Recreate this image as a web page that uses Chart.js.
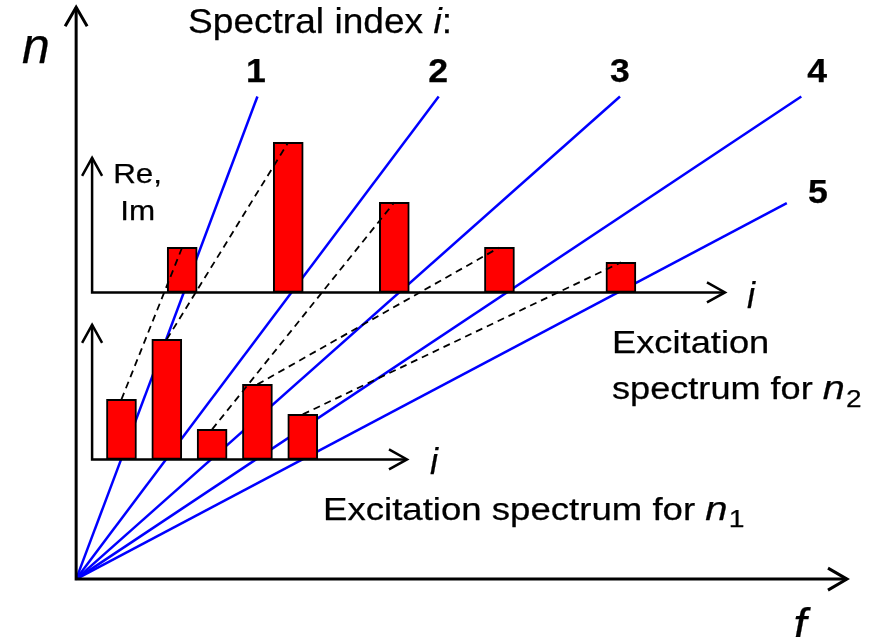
<!DOCTYPE html>
<html>
<head>
<meta charset="utf-8">
<script src="https://cdn.jsdelivr.net/npm/chart.js@4/dist/chart.umd.min.js"></script>
<style>
  html, body { margin: 0; padding: 0; background: #ffffff; }
  #wrap { width: 872px; height: 637px; position: relative; }
</style>
</head>
<body>
<div id="wrap"><canvas id="c"></canvas></div>
<script>
// Rays of constant spectral index i in the (f, n) plane, each from the origin to its end point
const spectralIndex = [1, 2, 3, 4, 5];
const rayEndF = [1, 2, 3, 4, 3.92];
const rayEndN = [1, 1, 1, 1, 0.779];

// Excitation spectrum for n1 (lower inset): Re/Im amplitude per spectral index
const lowerBarF = [0.25, 0.5, 0.75, 1.0, 1.25];
const lowerAmp = [4, 8, 2, 5, 3];

// Excitation spectrum for n2 (upper inset)
const upperBarF = [0.585, 1.17, 1.755, 2.335, 3.005];
const upperAmp = [3, 10, 6, 3, 2];

// Visible window of the f-n plane and placement of the two inset spectra
const VIEW = { fMin: -0.42, fMax: 4.39, nMin: -0.12, nMax: 1.2 };
const AXIS = { fTip: 4.252, nTip: 1.185 };
const INSET = {
  lo: { base: 0.248, axisF: 0.088, topN: 0.527, endF: 1.825 },
  up: { base: 0.594, axisF: 0.088, topN: 0.873, endF: 3.579 }
};
const AMP_UNIT = 0.0311; // n-units per Re/Im unit

const FACE = '"Liberation Sans", Arial, Helvetica, sans-serif';
const font = (size, style) => (style ? style + ' ' : '') + size + 'px ' + FACE;

// Text placement in plane coordinates (f, n)
const RAY_LABEL_F = [0.992, 1.997, 3.0, 4.087, 4.092];
const RAY_LABEL_N = [1.030, 1.030, 1.030, 1.030, 0.779];

function ampRange(base) {
  return { min: (VIEW.nMin - base) / AMP_UNIT, max: (VIEW.nMax - base) / AMP_UNIT };
}

const rayDatasets = spectralIndex.map((i, k) => ({
  type: 'line',
  label: 'i = ' + i,
  data: [{ x: 0, y: 0 }, { x: rayEndF[k], y: rayEndN[k] }],
  xAxisID: 'x', yAxisID: 'y',
  borderColor: '#0000FF', borderWidth: 2.5,
  pointRadius: 0, fill: false, tension: 0, order: 3
}));

const barStyle = {
  type: 'bar', xAxisID: 'x',
  backgroundColor: '#FF0000', borderColor: '#000000', borderWidth: 2,
  borderSkipped: false, barThickness: 30, stack: 'spectra', order: 2
};

const upperBars = Object.assign({}, barStyle, {
  label: 'Excitation spectrum for n2', yAxisID: 'yUp',
  data: upperBarF.map((f, k) => ({ x: f, y: upperAmp[k] }))
});
const lowerBars = Object.assign({}, barStyle, {
  label: 'Excitation spectrum for n1', yAxisID: 'yLo',
  data: lowerBarF.map((f, k) => ({ x: f, y: lowerAmp[k] }))
});

// Dashed links joining the tops of matching bars of both spectra
const linkDatasets = spectralIndex.map((i, k) => ({
  type: 'line',
  label: 'link ' + i,
  data: [
    { x: lowerBarF[k], y: INSET.lo.base + lowerAmp[k] * AMP_UNIT },
    { x: upperBarF[k], y: INSET.up.base + upperAmp[k] * AMP_UNIT }
  ],
  xAxisID: 'x', yAxisID: 'y',
  borderColor: '#000000', borderWidth: 1.8, borderDash: [7, 5],
  pointRadius: 0, fill: false, tension: 0, order: 1
}));

// Writes a run of differently styled text pieces, stretched horizontally by hScale
function drawRich(ctx, x, y, parts, align, hScale, weight) {
  let w = 0;
  parts.forEach(p => { ctx.font = p.font; p.w = ctx.measureText(p.text).width; w += p.w + (p.dx || 0); });
  ctx.save();
  ctx.translate(x, y);
  ctx.scale(hScale || 1, 1);
  ctx.fillStyle = '#000000';
  ctx.strokeStyle = '#000000';
  ctx.lineWidth = weight || 0;
  ctx.lineJoin = 'round';
  ctx.textAlign = 'left';
  ctx.textBaseline = 'alphabetic';
  let cx = align === 'center' ? -w / 2 : 0;
  parts.forEach(p => {
    ctx.font = p.font;
    cx += (p.dx || 0);
    ctx.fillText(p.text, cx, p.dy || 0);
    if (weight) ctx.strokeText(p.text, cx, p.dy || 0);
    cx += p.w;
  });
  ctx.restore();
}

function chevron(ctx, x1, y1, x2, y2, len, half) {
  const a = Math.atan2(y2 - y1, x2 - x1);
  const ux = Math.cos(a), uy = Math.sin(a);
  const bx = x2 - ux * len, by = y2 - uy * len;
  ctx.beginPath();
  ctx.moveTo(bx - uy * half, by + ux * half);
  ctx.lineTo(x2, y2);
  ctx.lineTo(bx + uy * half, by - ux * half);
  ctx.stroke();
}

// Draws an L-shaped pair of axes with open arrowheads on both ends
function drawAxes(ctx, X, Y, f0, n0, fEnd, nEnd, lw, len, half) {
  const ox = X.getPixelForValue(f0), oy = Y.getPixelForValue(n0);
  const tx = X.getPixelForValue(fEnd), ty = Y.getPixelForValue(nEnd);
  ctx.save();
  ctx.strokeStyle = '#000000';
  ctx.lineWidth = lw;
  ctx.lineJoin = 'miter';
  ctx.lineCap = 'butt';
  ctx.beginPath();
  ctx.moveTo(ox, ty);
  ctx.lineTo(ox, oy);
  ctx.lineTo(tx, oy);
  ctx.stroke();
  chevron(ctx, ox, oy, ox, ty, len, half);
  chevron(ctx, ox, oy, tx, oy, len, half);
  ctx.restore();
}

const diagramPlugin = {
  id: 'diagram',
  afterDatasetsDraw(chart) {
    const ctx = chart.ctx;
    const X = chart.scales.x, Y = chart.scales.y;
    const px = f => X.getPixelForValue(f);
    const py = n => Y.getPixelForValue(n);

    // main f-n axes
    drawAxes(ctx, X, Y, 0, 0, AXIS.fTip, AXIS.nTip, 3, 19, 11);
    // inset axes of both spectra
    drawAxes(ctx, X, Y, INSET.up.axisF, INSET.up.base, INSET.up.endF, INSET.up.topN, 2.5, 18, 10);
    drawAxes(ctx, X, Y, INSET.lo.axisF, INSET.lo.base, INSET.lo.endF, INSET.lo.topN, 2.5, 18, 10);

    const W = 0.25;
    // axis names
    drawRich(ctx, px(-0.298), py(1.069), [{ text: 'n', font: font(50, 'italic') }], 'left', 1, W);
    drawRich(ctx, px(3.955), py(-0.130), [{ text: 'f', font: font(48, 'italic') }], 'left', 1, W);

    // heading and ray indices
    drawRich(ctx, px(0.617), py(1.1316), [
      { text: 'Spectral index ', font: font(35) },
      { text: 'i', font: font(35, 'italic') },
      { text: ':', font: font(35) }
    ], 'left', 1.06, W);
    spectralIndex.forEach((i, k) => {
      drawRich(ctx, px(RAY_LABEL_F[k]), py(RAY_LABEL_N[k]),
        [{ text: String(i), font: font(33, 'bold') }], 'center', 1.08, W);
    });

    // inset labels
    drawRich(ctx, px(0.339), py(0.8204), [{ text: 'Re,', font: font(28) }], 'center', 1.12, W);
    drawRich(ctx, px(0.339), py(0.7438), [{ text: 'Im', font: font(28) }], 'center', 1.12, W);
    drawRich(ctx, px(3.701), py(0.5617), [{ text: 'i', font: font(36, 'italic') }], 'left', 1, W);
    drawRich(ctx, px(1.952), py(0.2178), [{ text: 'i', font: font(36, 'italic') }], 'left', 1, W);

    drawRich(ctx, px(2.956), py(0.4684), [{ text: 'Excitation', font: font(31) }], 'left', 1.17, W);
    drawRich(ctx, px(2.956), py(0.3731), [
      { text: 'spectrum for ', font: font(31) },
      { text: 'n', font: font(34, 'italic') },
      { text: '2', font: font(24), dy: 8, dx: 1 }
    ], 'left', 1.165, W);
    drawRich(ctx, px(1.362), py(0.1225), [
      { text: 'Excitation spectrum for ', font: font(31) },
      { text: 'n', font: font(34, 'italic') },
      { text: '1', font: font(24), dy: 7, dx: 1 }
    ], 'left', 1.18, W);
  }
};

const upR = ampRange(INSET.up.base);
const loR = ampRange(INSET.lo.base);

new Chart(document.getElementById('c'), {
  type: 'scatter',
  data: { datasets: [...rayDatasets, upperBars, lowerBars, ...linkDatasets] },
  options: {
    responsive: true,
    maintainAspectRatio: false,
    animation: false,
    events: [],
    layout: { padding: 0 },
    plugins: { legend: { display: false }, tooltip: { enabled: false }, title: { display: false } },
    scales: {
      x: { type: 'linear', display: false, min: VIEW.fMin, max: VIEW.fMax, offset: false },
      y: { type: 'linear', display: false, min: VIEW.nMin, max: VIEW.nMax },
      yUp: { type: 'linear', axis: 'y', display: false, min: upR.min, max: upR.max },
      yLo: { type: 'linear', axis: 'y', display: false, min: loR.min, max: loR.max }
    }
  },
  plugins: [diagramPlugin]
});
</script>
</body>
</html>
